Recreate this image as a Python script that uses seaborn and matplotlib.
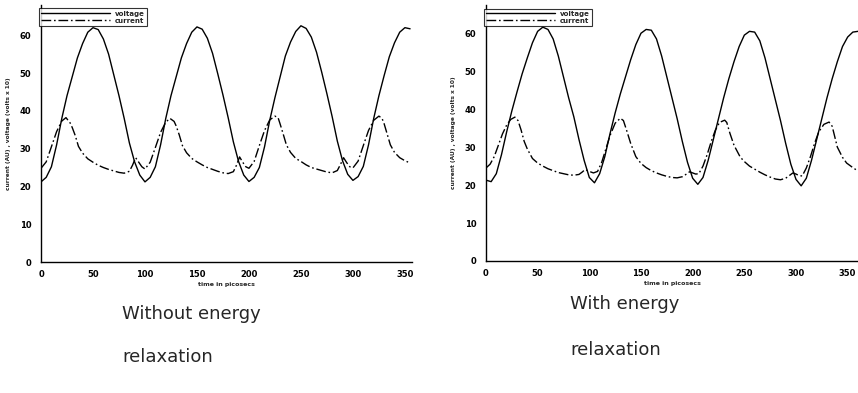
import matplotlib
matplotlib.use("Agg")
import matplotlib.pyplot as plt
import seaborn as sns
import pandas as pd

# ---------------- data ----------------
# Left panel: without energy relaxation
t_left_voltage = [0, 5, 10, 15, 20, 25, 30, 35, 40, 45, 50, 55, 60, 65, 70, 75, 80, 85, 90, 95,
                  100, 105, 110, 115, 120, 125, 130, 135, 140, 145, 150, 155, 160, 165, 170, 175, 180, 185, 190, 195,
                  200, 205, 210, 215, 220, 225, 230, 235, 240, 245, 250, 255, 260, 265, 270, 275, 280, 285, 290, 295,
                  300, 305, 310, 315, 320, 325, 330, 335, 340, 345, 350, 355]
v_left_voltage = [21.2, 22.4, 25.2, 31.0, 38.0, 44.0, 49.0, 54.0, 57.8, 60.8, 62.0, 61.5, 59.0, 55.0, 49.5, 44.0, 38.0, 31.5, 26.5, 23.0,
                  21.2, 22.4, 25.2, 31.0, 38.0, 44.0, 49.0, 54.0, 57.8, 60.8, 62.2, 61.6, 59.2, 55.2, 49.8, 44.2, 38.2, 31.8, 26.6, 23.0,
                  21.3, 22.4, 25.0, 30.5, 37.5, 43.5, 49.0, 54.5, 58.2, 61.0, 62.5, 61.8, 59.5, 55.5, 50.2, 44.5, 38.5, 32.0, 26.8, 23.2,
                  21.6, 22.6, 25.3, 31.0, 38.0, 44.0, 49.3, 54.3, 58.0, 60.8, 62.0, 61.7]

t_left_current = [0, 5, 10, 15, 20, 24, 28, 30, 33, 36, 40, 45, 50, 55, 60, 65, 70, 75, 80, 85, 88, 91, 94, 97,
                  100, 105, 110, 115, 120, 124, 128, 130, 133, 136, 140, 145, 150, 155, 160, 165, 170, 175, 180, 185, 188, 191, 194, 197,
                  200, 205, 210, 215, 220, 225, 228, 230, 233, 236, 240, 245, 250, 255, 260, 265, 270, 275, 280, 285, 288, 291, 294, 297,
                  300, 305, 310, 315, 320, 325, 328, 330, 333, 336, 340, 345, 350, 355]
v_left_current = [24.8, 26.5, 30.5, 34.5, 37.3, 38.2, 36.8, 35.6, 33.4, 30.6, 28.8, 27.3, 26.4, 25.6, 25.0, 24.5, 24.1, 23.7, 23.5, 24.0, 25.6, 27.6, 26.4, 25.2,
                  24.6, 26.4, 30.3, 34.3, 37.0, 38.0, 37.2, 36.0, 33.6, 30.8, 28.9, 27.4, 26.5, 25.7, 25.0, 24.5, 24.0, 23.6, 23.4, 23.9, 25.6, 27.8, 26.4, 25.2,
                  24.8, 26.6, 30.8, 34.8, 37.6, 38.6, 38.2, 36.5, 33.8, 31.0, 29.0, 27.4, 26.6, 25.7, 25.0, 24.6, 24.2, 23.8, 23.6, 24.2, 25.8, 27.6, 26.3, 25.2,
                  24.9, 26.7, 30.8, 34.8, 37.5, 38.6, 38.0, 36.6, 33.8, 31.0, 29.0, 27.6, 26.8, 26.2]

# Right panel: with energy relaxation
t_right_voltage = [0, 5, 10, 15, 20, 25, 30, 35, 40, 45, 50, 55, 60, 65, 70, 75, 80, 85, 90, 95,
                   100, 105, 110, 115, 120, 125, 130, 135, 140, 145, 150, 155, 160, 165, 170, 175, 180, 185, 190, 195,
                   200, 205, 210, 215, 220, 225, 230, 235, 240, 245, 250, 255, 260, 265, 270, 275, 280, 285, 290, 295,
                   300, 305, 310, 315, 320, 325, 330, 335, 340, 345, 350, 355, 360]
v_right_voltage = [21.3, 20.9, 23.0, 28.0, 34.0, 39.5, 44.5, 49.3, 53.5, 57.5, 60.5, 61.6, 61.0, 58.5, 54.0, 48.5, 43.0, 38.0, 32.0, 26.5,
                   22.0, 20.6, 23.0, 27.5, 33.5, 39.0, 44.0, 48.5, 53.0, 57.0, 60.0, 61.0, 60.8, 58.5, 54.0, 48.5, 43.0, 37.5, 31.5, 26.0,
                   21.8, 20.2, 22.0, 26.5, 32.0, 37.5, 43.0, 48.0, 52.5, 56.5, 59.5, 60.5, 60.3, 58.0, 53.5, 48.0, 42.5, 37.0, 31.0, 25.5,
                   21.5, 19.8, 21.8, 26.5, 32.0, 37.5, 43.0, 48.0, 52.5, 56.5, 59.0, 60.3, 60.5]

t_right_current = [0, 4, 8, 12, 16, 20, 24, 28, 31, 34, 37, 40, 45, 50, 55, 60, 65, 70, 75, 80, 85, 90, 93, 96,
                   100, 104, 108, 112, 116, 120, 125, 130, 133, 136, 140, 145, 150, 155, 160, 165, 170, 175, 180, 185, 190, 194, 197,
                   200, 203, 206, 210, 214, 218, 222, 226, 231, 233, 236, 240, 246, 250, 255, 260, 265, 270, 275, 280, 285, 290, 294, 297,
                   300, 303, 306, 310, 314, 318, 322, 327, 332, 335, 340, 345, 349, 355, 360]
v_right_current = [24.5, 25.5, 27.5, 30.5, 33.5, 35.8, 37.3, 37.9, 37.0, 34.5, 31.5, 29.5, 27.0, 25.8, 25.0, 24.3, 23.8, 23.3, 23.0, 22.7, 22.6, 22.8, 23.4, 24.1,
                   23.6, 23.2, 23.6, 26.0, 29.5, 33.0, 36.3, 37.6, 37.0, 34.5, 31.0, 27.5, 25.7, 24.6, 23.8, 23.2, 22.7, 22.3, 22.0, 21.9, 22.2, 22.9, 23.5,
                   23.2, 22.9, 23.0, 25.0, 28.0, 31.5, 34.5, 36.5, 37.1, 36.5, 33.7, 30.5, 27.4, 26.2, 25.0, 24.2, 23.4, 22.7, 22.1, 21.6, 21.4, 21.8, 22.6, 23.2,
                   22.9, 22.5, 22.4, 24.5, 27.5, 31.0, 34.0, 36.0, 36.6, 35.5, 30.0, 27.3, 25.8, 24.6, 23.7]

series_names = ["voltage", "current"]
x_ticks = [0, 50, 100, 150, 200, 250, 300, 350]
y_ticks = [0, 10, 20, 30, 40, 50, 60]
x_label = "time in picosecs"
y_label = "current (AU) , voltage (volts x 10)"
captions = [("Without energy", "relaxation"), ("With energy", "relaxation")]

# ---------------- figure ----------------
sns.set_theme(style="white")
plt.rcParams["font.family"] = ["DejaVu Sans"]

fig = plt.figure(figsize=(8.58, 3.93), dpi=100)
ax_l = fig.add_axes([0.0478, 0.3333, 0.4326, 0.654])
ax_r = fig.add_axes([0.5664, 0.3359, 0.4336, 0.651])

panels = [
    (ax_l, t_left_voltage, v_left_voltage, t_left_current, v_left_current, 357, 68.0),
    (ax_r, t_right_voltage, v_right_voltage, t_right_current, v_right_current, 360, 67.4),
]

for ax, tv, vv, tc, vc, xmax, ymax in panels:
    dv = pd.DataFrame({"t": tv, "v": vv})
    dc = pd.DataFrame({"t": tc, "v": vc})
    sns.lineplot(data=dv, x="t", y="v", ax=ax, color="black", linewidth=1.0,
                 estimator=None, label=series_names[0])
    sns.lineplot(data=dc, x="t", y="v", ax=ax, color="black", linewidth=1.0,
                 estimator=None, label=series_names[1])
    ax.lines[1].set_dashes([7, 2, 1.2, 2])
    ax.set_xlim(0, xmax)
    ax.set_ylim(0, ymax)
    ax.set_xticks(x_ticks)
    ax.set_yticks(y_ticks)
    ax.set_xlabel(x_label, fontsize=4.5, fontweight="bold", labelpad=2)
    ax.set_ylabel(y_label, fontsize=4.2, fontweight="bold", labelpad=6)
    ax.tick_params(axis="x", direction="in", length=3, width=0.8, labelsize=6, pad=6, colors="black")
    ax.tick_params(axis="y", direction="out", length=3, width=0.8, labelsize=6, pad=4, colors="black")
    for lab in ax.get_xticklabels() + ax.get_yticklabels():
        lab.set_fontweight("bold")
    ax.set_facecolor("white")
    for s in ["top", "right"]:
        ax.spines[s].set_visible(False)
    for s in ["left", "bottom"]:
        ax.spines[s].set_color("black")
        ax.spines[s].set_linewidth(1.0)
    leg = ax.legend(loc="upper left", bbox_to_anchor=(-0.015, 1.0),
                    handlelength=10, handletextpad=0.6, borderpad=0.3,
                    labelspacing=0.15, frameon=True, fancybox=False,
                    prop={"weight": "bold", "size": 5})
    leg.get_frame().set_edgecolor("black")
    leg.get_frame().set_linewidth(0.8)
    leg.legend_handles[1].set_dashes([7, 2, 1.2, 2])

fig.text(122 / 858, 1 - 314 / 393, captions[0][0], fontsize=13, va="center", ha="left")
fig.text(122 / 858, 1 - 357 / 393, captions[0][1], fontsize=13, va="center", ha="left")
fig.text(570 / 858, 1 - 304 / 393, captions[1][0], fontsize=13, va="center", ha="left")
fig.text(570 / 858, 1 - 350 / 393, captions[1][1], fontsize=13, va="center", ha="left")

fig.savefig("out.png", dpi=100, facecolor="white")
